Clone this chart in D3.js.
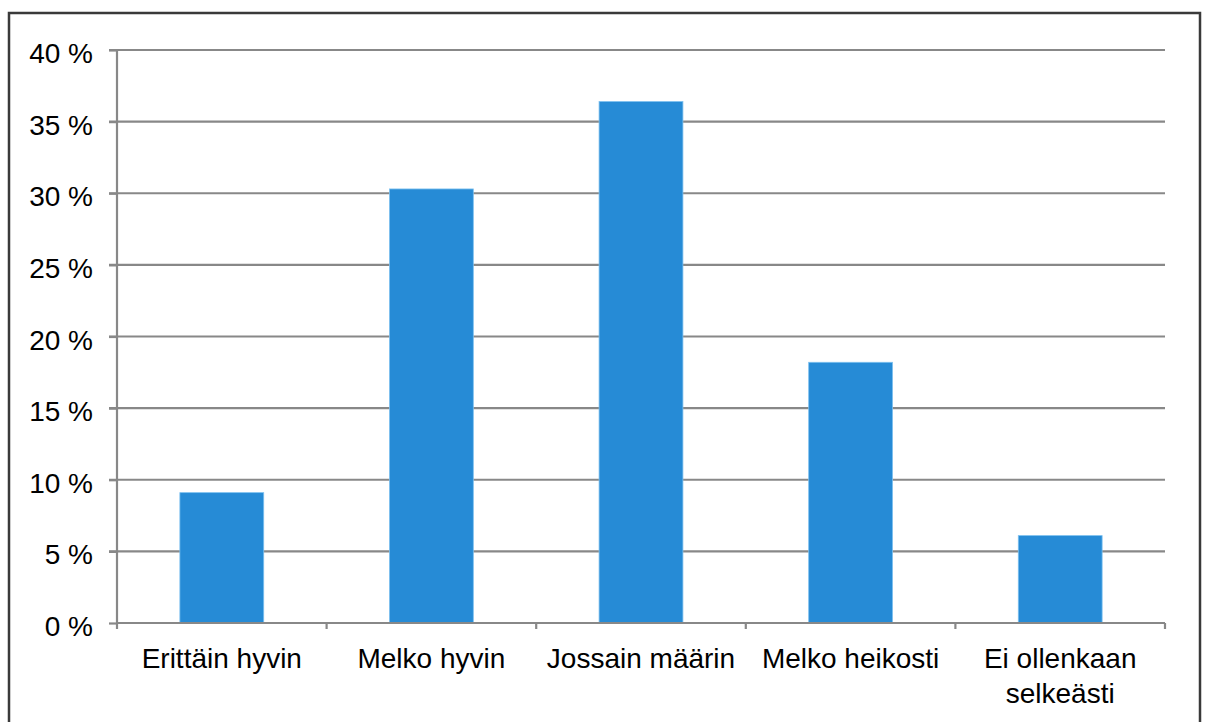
<!DOCTYPE html>
<html>
<head>
<meta charset="utf-8">
<script src="https://cdn.jsdelivr.net/npm/d3@7"></script>
<style>
  body { margin: 0; background: #fff; }
  svg { display: block; }
</style>
</head>
<body>
<script>
// DATA
const categories = ['Erittäin hyvin', 'Melko hyvin', 'Jossain määrin', 'Melko heikosti', 'Ei ollenkaan selkeästi'];
const values = [9.1, 30.3, 36.4, 18.2, 6.1];
const yTicks = [0, 5, 10, 15, 20, 25, 30, 35, 40];

// DEFS
const width = 1206;
const height = 722;
const margin = {top: 50, right: 41, bottom: 99, left: 117};
const barColor = '#268bd6';
const gridColor = '#888888';
const font = '28px "Liberation Sans", Arial, sans-serif';

const svg = d3.select('body').append('svg').attr('width', width).attr('height', height);

// frame around the chart
svg.append('rect')
    .attr('x', 9).attr('y', 13)
    .attr('width', 1191).attr('height', 720)
    .attr('fill', 'none')
    .attr('stroke', '#3a3a3a')
    .attr('stroke-width', 2.5);

const x = d3.scaleBand()
    .domain(categories)
    .range([margin.left, width - margin.right])
    .paddingInner(0.6)
    .paddingOuter(0.3);

const y = d3.scaleLinear()
    .domain([0, 40])
    .range([height - margin.bottom, margin.top]);

// GRIDLINES
svg.append('g')
    .selectAll('line')
    .data(yTicks.filter(d => d > 0))
  .enter().append('line')
    .attr('x1', margin.left - 8)
    .attr('x2', width - margin.right)
    .attr('y1', d => y(d))
    .attr('y2', d => y(d))
    .attr('stroke', gridColor)
    .attr('stroke-width', 2.2);

// BARS
svg.append('g')
    .selectAll('rect')
    .data(values)
  .enter().append('rect')
    .attr('x', (d, i) => x(categories[i]))
    .attr('y', d => y(d))
    .attr('width', x.bandwidth())
    .attr('height', d => y(0) - y(d))
    .attr('fill', barColor)
    .attr('stroke', '#7cc0ef')
    .attr('stroke-width', 0.8);

// Y AXIS
const yAxis = svg.append('g')
    .attr('transform', `translate(${margin.left}, 0)`)
    .call(d3.axisLeft(y).tickValues(yTicks).tickSize(8).tickPadding(16).tickFormat(d => d + ' %'));
yAxis.select('.domain').remove();
yAxis.selectAll('.tick line').attr('stroke', gridColor).attr('stroke-width', 2.2);
yAxis.selectAll('text')
    .style('font', font)
    .attr('fill', '#000')
    .attr('dy', '0.45em');
yAxis.append('line')
    .attr('x1', 0).attr('x2', 0)
    .attr('y1', margin.top - 1)
    .attr('y2', y(0) + 6)
    .attr('stroke', gridColor)
    .attr('stroke-width', 2.2);

// X AXIS
const boundaries = d3.range(categories.length + 1).map(i => margin.left + i * (width - margin.left - margin.right) / categories.length);
const xAxis = svg.append('g');
xAxis.append('line')
    .attr('x1', margin.left)
    .attr('x2', width - margin.right)
    .attr('y1', y(0))
    .attr('y2', y(0))
    .attr('stroke', gridColor)
    .attr('stroke-width', 2.2);
xAxis.selectAll('.xtick')
    .data(boundaries.slice(1))
  .enter().append('line')
    .attr('x1', d => d).attr('x2', d => d)
    .attr('y1', y(0)).attr('y2', y(0) + 6)
    .attr('stroke', gridColor)
    .attr('stroke-width', 2.2);

// category labels, wrapped like the original
const labelLines = {'Ei ollenkaan selkeästi': ['Ei ollenkaan', 'selkeästi']};
const labels = xAxis.selectAll('.xlabel')
    .data(categories)
  .enter().append('text')
    .attr('text-anchor', 'middle')
    .attr('x', d => x(d) + x.bandwidth() / 2)
    .attr('y', y(0) + 45)
    .style('font', font)
    .attr('fill', '#000');
labels.each(function(d) {
    const lines = labelLines[d] || [d];
    d3.select(this).selectAll('tspan')
        .data(lines)
      .enter().append('tspan')
        .attr('x', x(d) + x.bandwidth() / 2)
        .attr('dy', (l, i) => i === 0 ? 0 : 35)
        .text(l => l);
});
</script>
</body>
</html>
